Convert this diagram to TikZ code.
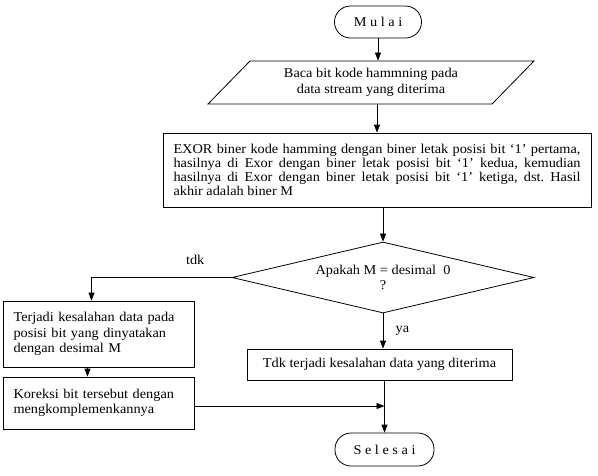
\documentclass[tikz,border=0pt]{standalone}
\usepackage{fontspec}
\setmainfont[FakeStretch=1.06]{Liberation Serif}
\usetikzlibrary{shapes.geometric, arrows.meta}
\frenchspacing

\begin{document}
\begin{tikzpicture}[
    x=1pt, y=-1pt,
    every node/.style={font=\fontsize{13.5}{15.5}\selectfont},
    >={Triangle[length=8pt,width=6pt]},
    line width=0.8pt,
    flowbox/.style={draw, rectangle, inner xsep=10.5pt, inner ysep=0pt},
    terminal/.style={draw, rectangle, rounded corners=16pt, minimum height=32pt},
]
\useasboundingbox (0,0) rectangle (598,475);

% Start
\node[terminal, minimum width=87pt] (mulai) at (378,22) {M u l a i};

% Input (parallelogram)
\node[draw, trapezium, trapezium left angle=33.5, trapezium right angle=146.5,
      trapezium stretches body, minimum width=326pt, minimum height=43pt,
      inner sep=0pt, align=center] (baca) at (371,82.5)
      {Baca bit kode hammning pada\\data stream yang diterima};

% EXOR step
\node[flowbox, text width=407pt, align=justify, minimum height=74pt,
      font=\fontsize{13.5}{13.8}\selectfont] (exor) at (377,170)
      {EXOR biner kode hamming dengan biner letak posisi bit `1' pertama,\linebreak
       hasilnya di Exor dengan biner letak posisi bit `1' kedua, kemudian\linebreak
       hasilnya di Exor dengan biner letak posisi bit `1' ketiga, dst. Hasil\linebreak
       akhir adalah biner M};

% Decision
\node[draw, diamond, aspect=4.25, minimum width=302pt, minimum height=71pt,
      inner sep=0pt, align=center] (cek) at (383,277.5)
      {Apakah M = desimal~~0\\?};

% Error branch
\node[flowbox, text width=170pt, align=left, minimum height=66pt] (salah) at (98.5,334)
      {Terjadi kesalahan data pada posisi bit yang dinyatakan dengan desimal M};
\node[flowbox, text width=170pt, align=left, minimum height=52pt] (koreksi) at (98.5,403)
      {Koreksi bit tersebut dengan mengkomplemenkannya};

% No error
\node[flowbox, minimum width=265pt, minimum height=31pt] (benar) at (379.5,364.5)
      {Tdk terjadi kesalahan data yang diterima};

% End
\node[terminal, minimum width=99pt, minimum height=33pt] (selesai) at (384.5,449.5) {S e l e s a i};

% Arrows
\draw[->] (mulai.south) -- (mulai.south |- baca.north);
\draw[->] (exor.north |- baca.south) -- (exor.north);
\draw[->] (cek.north |- exor.south) -- (cek.north);
\draw[->] (cek.west) -| ([xshift=-7pt]salah.north) node[pos=0.13, above=9pt] {tdk};
\draw[->] (cek.south) -- (cek.south |- benar.north) node[midway, right=9pt] {ya};
\draw[->] ([xshift=-11pt]salah.south) -- ([xshift=-11pt]koreksi.north);
\draw[->] (selesai.north |- benar.south) -- (selesai.north);
\draw[->] ([yshift=-3pt]koreksi.east) -- ([yshift=-3pt]koreksi.east -| selesai.north);
\end{tikzpicture}
\end{document}
